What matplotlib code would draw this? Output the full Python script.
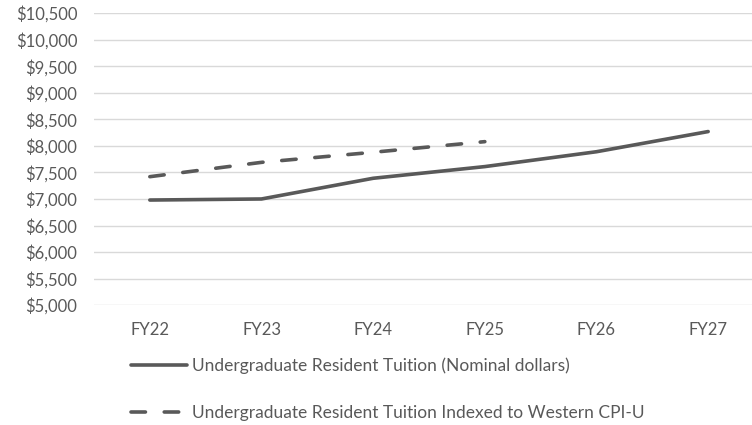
import matplotlib.pyplot as plt

years = ["FY22", "FY23", "FY24", "FY25", "FY26", "FY27"]
nominal = [6980, 7000, 7390, 7610, 7890, 8270]
indexed = [7420, 7690, 7880, 8080]

label_nominal = "Undergraduate Resident Tuition (Nominal dollars)"
label_indexed = "Undergraduate Resident Tuition Indexed to Western CPI-U"

grey = "#595959"
plt.rcParams["font.family"] = ["Lato", "DejaVu Sans"]

fig = plt.figure(figsize=(7.52, 4.25), dpi=100)
ax = fig.add_axes([94 / 752, 0.282, 670 / 752, 0.687])

x = list(range(len(years)))
ax.plot(x, nominal, color=grey, linewidth=2.6, solid_capstyle="round",
        label=label_nominal)
ax.plot(x[:len(indexed)], indexed, color=grey, linewidth=2.6,
        dashes=(4.0, 5.2), dash_capstyle="round", label=label_indexed)

ax.set_xlim(-0.5, len(years) - 0.5)
ax.set_ylim(5000, 10500)
ax.set_yticks(range(5000, 10501, 500))
ax.set_yticklabels([f"${v:,}" for v in range(5000, 10501, 500)])
ax.set_xticks(x)
ax.set_xticklabels(years)

ax.grid(axis="y", color="#d9d9d9", linewidth=1)
ax.set_axisbelow(True)
for s in ax.spines.values():
    s.set_visible(False)
ax.tick_params(length=0, colors=grey, labelsize=12)
ax.tick_params(axis="y", pad=12)
ax.tick_params(axis="x", pad=12)

fig.legend(loc="upper left", bbox_to_anchor=(0.165, 0.175), frameon=False,
           fontsize=12.5, labelcolor=grey, handlelength=3.2, handletextpad=0.3,
           labelspacing=1.8, borderaxespad=0)

fig.savefig("out.png", dpi=100)
